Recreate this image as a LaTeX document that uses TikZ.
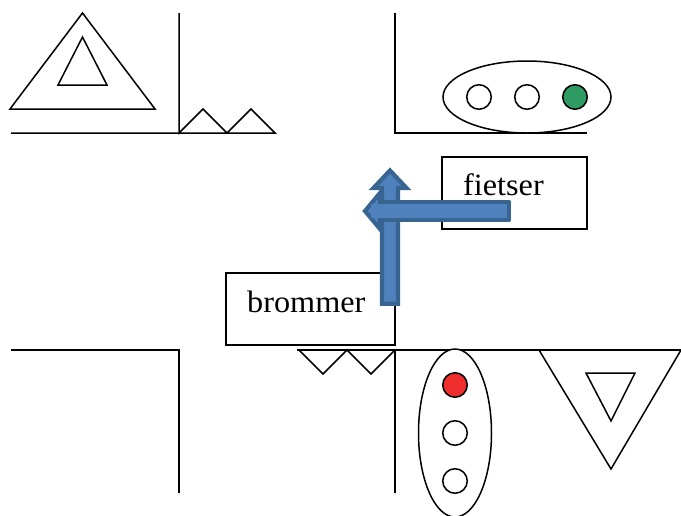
\documentclass[tikz,border=0pt]{standalone}
\usepackage{fontspec}
\setmainfont[FakeStretch=1.04]{Liberation Serif}
\definecolor{arrowfill}{HTML}{4F81BD}
\definecolor{arrowline}{HTML}{386491}
\definecolor{lampgreen}{HTML}{2E9B63}
\definecolor{lampred}{HTML}{EE2D2D}
\tikzset{
  ln/.style={draw=black,line width=1.5pt,line join=miter,miter limit=4},
  lamp/.style={circle,draw=black,line width=1.5pt,minimum size=24.5pt,inner sep=0pt,fill=white},
  signal/.style={ellipse,draw=black,line width=1.5pt,inner sep=0pt,fill=white},
  roadbox/.style={rectangle,draw=black,line width=1.5pt,fill=white,inner sep=0pt},
  lbl/.style={anchor=base west,inner sep=0pt,font=\fontsize{31}{36}\selectfont,text=black},
  arr/.style={fill=arrowfill,draw=arrowline,line width=4.2pt,line join=miter},
}
\usetikzlibrary{shapes.geometric}
\begin{document}
\begin{tikzpicture}[x=1pt,y=-1pt]
\useasboundingbox (0,0) rectangle (681,515);
% top left
\draw[ln] (82.5,13) -- (155,109) -- (10,109) -- cycle;
\draw[ln] (82.5,37) -- (107,85) -- (58,85) -- cycle;
\draw[ln] (11,133) -- (275,133) -- (251,109) -- (227,133) -- (203,109) -- (179,133) -- (179,13);
% top right
\draw[ln] (395,13) -- (395,133) -- (587,133);
\node[signal,minimum width=168pt,minimum height=72pt] (sigT) at (527,97) {};
\node[lamp] (t1) at (479,97) {};
\node[lamp] (t2) at (527,97) {};
\node[lamp,fill=lampgreen] (t3) at (575,97) {};
% bottom left
\draw[ln] (11,350) -- (179,350) -- (179,493);
% bottom middle and right
\draw[ln] (297,350) -- (681,350);
\draw[ln] (395,350) -- (395,493);
\draw[ln] (299,350) -- (323,374) -- (347,350) -- (371,374) -- (395,350);
\node[signal,minimum width=73pt,minimum height=168pt] (sigB) at (455,433) {};
\node[lamp,fill=lampred] (b1) at (455,385) {};
\node[lamp] (b2) at (455,433) {};
\node[lamp] (b3) at (455,481) {};
\draw[ln] (539,350) -- (611,469) -- (681,350);
\draw[ln] (586,373) -- (635,373) -- (611,421) -- cycle;
% boxes
\node[roadbox,minimum width=145pt,minimum height=72pt] (fietser) at (514.5,193) {};
\node[roadbox,minimum width=169pt,minimum height=72pt] (brommer) at (310.5,309) {};
\node[lbl] (tf) at (463,195) {fietser};
\node[lbl] (tb) at (247,312) {brommer};
% arrows
\path[arr] (380,229) -- (365,211) -- (380,193) -- cycle;
\path[arr] (382,303.7) -- (382,188) -- (373.5,188) -- (390,170.5) -- (406.5,188) -- (398,188) -- (398,303.7) -- cycle;
\fill[arrowfill] (371,204) rectangle (509,218);
\draw[arrowline,line width=4.2pt,line join=round] (382,202) -- (509,202) -- (509,220) -- (382,220);
\end{tikzpicture}
\end{document}
